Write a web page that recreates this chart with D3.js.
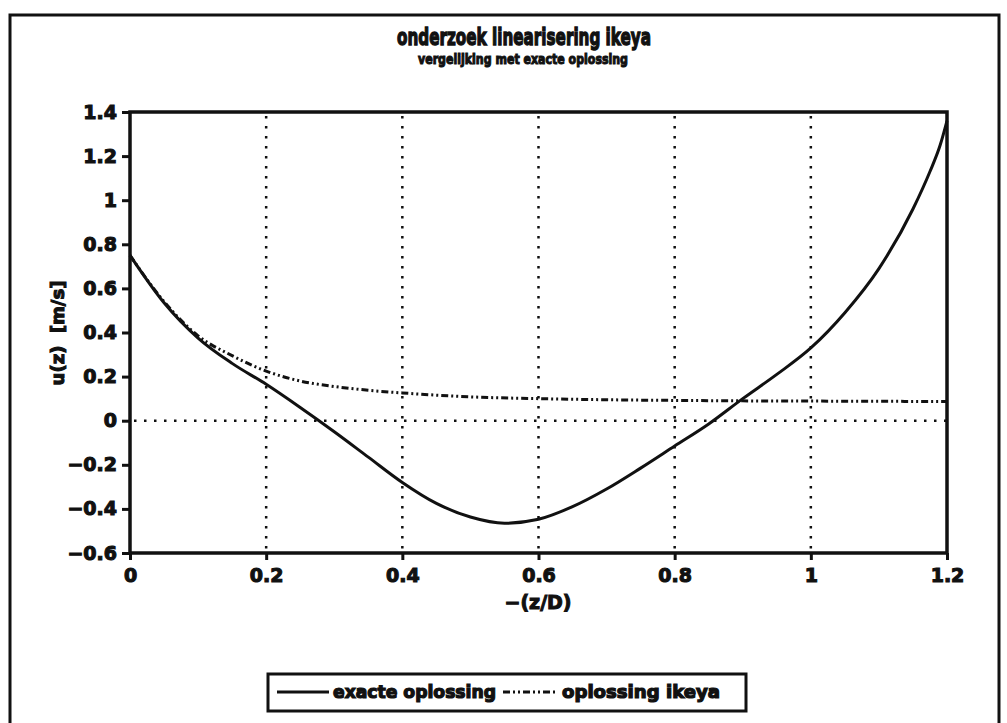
<!DOCTYPE html>
<html>
<head>
	<meta charset="UTF-8">
	<title>onderzoek linearisering ikeya</title>
	<script src="https://d3js.org/d3.v7.min.js"></script>
	<style>
		body { margin: 0; background: #fff; }
		text {
			font-family: "DejaVu Sans", sans-serif;
			font-weight: bold;
			fill: #111;
			stroke: #111;
			stroke-width: 0.9px;
		}
		.grid {
			stroke: #111;
			stroke-width: 2.5px;
			stroke-dasharray: 2.5, 7.5;
		}
	</style>
</head>
<body>
	<script>
		// data
		var xExact = [0, 0.05, 0.1, 0.15, 0.2, 0.25, 0.3, 0.35, 0.4, 0.45, 0.5, 0.55, 0.6, 0.65, 0.7, 0.75, 0.8, 0.85, 0.9, 0.95, 1.0, 1.05, 1.1, 1.15, 1.175, 1.19, 1.2];
		var yExact = [0.75, 0.535, 0.375, 0.26, 0.165, 0.06, -0.05, -0.165, -0.28, -0.375, -0.437, -0.465, -0.447, -0.39, -0.31, -0.215, -0.115, -0.015, 0.1, 0.21, 0.33, 0.49, 0.69, 0.96, 1.13, 1.25, 1.36];

		var xIkeya = [0, 0.05, 0.1, 0.15, 0.2, 0.25, 0.3, 0.35, 0.4, 0.5, 0.6, 0.7, 0.8, 0.9, 1.0, 1.1, 1.2];
		var yIkeya = [0.75, 0.54, 0.385, 0.295, 0.225, 0.18, 0.155, 0.138, 0.126, 0.108, 0.1, 0.095, 0.092, 0.09, 0.089, 0.088, 0.087];

		var xTicks = [0, 0.2, 0.4, 0.6, 0.8, 1, 1.2];
		var yTicks = [-0.6, -0.4, -0.2, 0, 0.2, 0.4, 0.6, 0.8, 1, 1.2, 1.4];
		var xGrid = [0.2, 0.4, 0.6, 0.8, 1];
		var legendNames = ["exacte oplossing", "oplossing ikeya"];

		var width = 1007, height = 723;
		var plot = {left: 130, right: 947, top: 112, bottom: 553};

		var svg = d3.select("body").append("svg")
			.attr("width", width)
			.attr("height", height);

		// outer frame (runs off the bottom)
		svg.append("path")
			.attr("d", "M10,740 V15 H999 V740")
			.attr("fill", "none")
			.attr("stroke", "#111")
			.attr("stroke-width", 3);

		var x = d3.scaleLinear().domain([0, 1.2]).range([plot.left, plot.right]);
		var y = d3.scaleLinear().domain([-0.6, 1.4]).range([plot.bottom, plot.top]);

		// titles
		svg.append("text")
			.attr("x", 524).attr("y", 45)
			.attr("text-anchor", "middle")
			.attr("font-size", 23)
			.style("stroke-width", "1.4px")
			.attr("textLength", 254).attr("lengthAdjust", "spacingAndGlyphs")
			.text("onderzoek linearisering ikeya");
		svg.append("text")
			.attr("x", 523).attr("y", 64)
			.attr("text-anchor", "middle")
			.attr("font-size", 14)
			.style("stroke-width", "1.1px")
			.attr("textLength", 210).attr("lengthAdjust", "spacingAndGlyphs")
			.text("vergelijking met exacte oplossing");

		// dotted grid
		svg.selectAll(".vgrid")
			.data(xGrid)
			.enter().append("line")
			.attr("class", "grid")
			.attr("x1", function(d) { return x(d); })
			.attr("x2", function(d) { return x(d); })
			.attr("y1", plot.top + 4)
			.attr("y2", plot.bottom);
		svg.append("line")
			.attr("class", "grid")
			.attr("x1", plot.left + 4).attr("x2", plot.right)
			.attr("y1", y(0)).attr("y2", y(0));

		// axes
		var fmt = function(d) { return String(d).replace("-", "\u2212"); };
		var xAxis = d3.axisBottom(x).tickValues(xTicks).tickSize(7).tickPadding(9).tickFormat(fmt);
		var yAxis = d3.axisLeft(y).tickValues(yTicks).tickSize(8).tickPadding(5).tickFormat(fmt);

		var gx = svg.append("g")
			.attr("transform", "translate(0," + plot.bottom + ")")
			.call(xAxis);
		var gy = svg.append("g")
			.attr("transform", "translate(" + plot.left + ",0)")
			.call(yAxis);

		[gx, gy].forEach(function(g) {
			g.select(".domain").remove();
			g.selectAll(".tick line").attr("stroke", "#111").attr("stroke-width", 3);
			g.selectAll(".tick text")
				.attr("font-size", 19)
				.attr("font-family", "DejaVu Sans")
				.attr("fill", "#111")
				.style("stroke-width", "1.1px");
		});

		// plot frame
		svg.append("rect")
			.attr("x", plot.left).attr("y", plot.top)
			.attr("width", plot.right - plot.left)
			.attr("height", plot.bottom - plot.top)
			.attr("fill", "none")
			.attr("stroke", "#111")
			.attr("stroke-width", 3.5);

		// axis titles
		svg.append("text")
			.attr("x", 538).attr("y", 609)
			.attr("text-anchor", "middle")
			.attr("font-size", 19)
			.style("stroke-width", "1.1px")
			.text("\u2212(z/D)");
		svg.append("text")
			.attr("transform", "translate(64,333) rotate(-90)")
			.attr("text-anchor", "middle")
			.attr("font-size", 18)
			.style("stroke-width", "1.1px")
			.attr("xml:space", "preserve")
			.text("u(z)  [m/s]");

		// curves
		var line = d3.line()
			.x(function(d) { return x(d[0]); })
			.y(function(d) { return y(d[1]); })
			.curve(d3.curveMonotoneX);

		var ikeya = xIkeya.map(function(d, i) { return [d, yIkeya[i]]; });
		var exact = xExact.map(function(d, i) { return [d, yExact[i]]; });

		svg.append("path")
			.datum(ikeya)
			.attr("d", line)
			.attr("fill", "none")
			.attr("stroke", "#111")
			.attr("stroke-width", 3)
			.attr("stroke-dasharray", "7,3,2,3,2,3");

		svg.append("path")
			.datum(exact)
			.attr("d", line)
			.attr("fill", "none")
			.attr("stroke", "#111")
			.attr("stroke-width", 3);

		// legend
		var legend = svg.append("g");
		legend.append("rect")
			.attr("x", 268).attr("y", 674)
			.attr("width", 478).attr("height", 37)
			.attr("fill", "#fff")
			.attr("stroke", "#111")
			.attr("stroke-width", 3);
		legend.append("line")
			.attr("x1", 277).attr("x2", 329).attr("y1", 692).attr("y2", 692)
			.attr("stroke", "#111").attr("stroke-width", 3);
		legend.append("line")
			.attr("x1", 503).attr("x2", 557).attr("y1", 692).attr("y2", 692)
			.attr("stroke", "#111").attr("stroke-width", 3)
			.attr("stroke-dasharray", "7,3,2,3,2,3");
		legend.append("text")
			.attr("x", 333).attr("y", 698)
			.attr("font-size", 17)
			.style("stroke-width", "1.2px")
			.attr("textLength", 163).attr("lengthAdjust", "spacingAndGlyphs")
			.text(legendNames[0]);
		legend.append("text")
			.attr("x", 562).attr("y", 698)
			.attr("font-size", 17)
			.style("stroke-width", "1.2px")
			.attr("textLength", 158).attr("lengthAdjust", "spacingAndGlyphs")
			.text(legendNames[1]);
	</script>
</body>
</html>
